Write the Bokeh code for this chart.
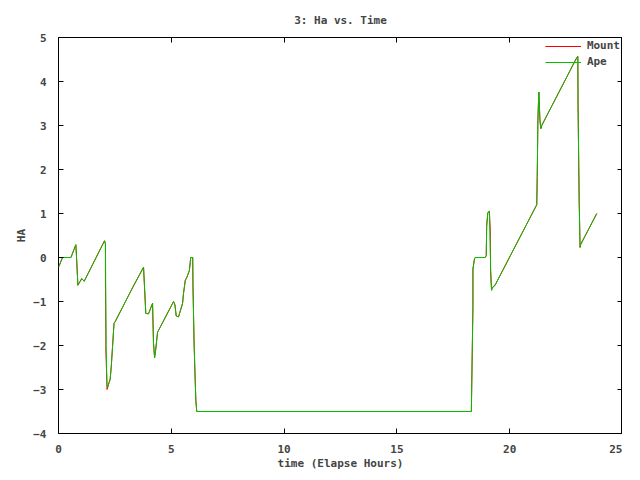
from bokeh.plotting import figure
from bokeh.models import LinearAxis, FixedTicker, Range1d, Legend, LegendItem, Spacer
from bokeh.layouts import row, column
from bokeh.embed import file_html
from bokeh.resources import INLINE

# Ape series (time in elapsed hours, HA)
ape_t = [0.00, 0.18, 0.55, 0.77, 0.80, 0.86, 1.03, 1.14, 2.04, 2.08, 2.11, 2.15, 2.18,
         2.24, 2.29, 2.34, 2.42, 2.46, 2.52, 3.30, 3.77, 3.87, 3.99, 4.17, 4.21, 4.26,
         4.31, 4.39, 5.10, 5.16, 5.22, 5.32, 5.50, 5.54, 5.62, 5.69, 5.80, 5.84, 5.86,
         5.95, 5.96, 6.01, 6.06, 6.09, 6.13, 18.30, 18.37, 18.37, 18.44, 18.47, 18.91,
         18.96, 18.98, 19.03, 19.10, 19.12, 19.16, 19.20, 19.24, 19.35, 21.20, 21.22,
         21.25, 21.29, 21.31, 21.34, 21.38, 21.42, 21.54, 22.98, 23.02, 23.03, 23.08,
         23.12, 23.15, 23.86]
ape_ha = [-0.22, 0.00, 0.00, 0.29, 0.00, -0.63, -0.48, -0.54, 0.38, 0.31, -2.00, -2.90, -2.95,
          -2.84, -2.77, -2.47, -1.83, -1.50, -1.45, -0.67, -0.22, -1.27, -1.28, -1.04, -1.94, -2.28,
          -2.09, -1.70, -1.00, -1.08, -1.33, -1.35, -1.04, -0.82, -0.52, -0.45, -0.30, -0.11, 0.00,
          0.00, -0.63, -1.94, -2.81, -3.26, -3.50, -3.50, -1.12, -0.26, -0.03, 0.00, 0.00,
          0.04, 0.72, 1.02, 1.05, 0.60, -0.30, -0.75, -0.67, -0.63, 1.20, 1.84,
          3.12, 3.76, 3.53, 3.12, 2.93, 3.00, 3.12, 4.55, 4.57, 3.45, 1.28,
          0.23, 0.30, 1.00]

# Mount series (mostly coincides with Ape)
mount_t = [0.00, 0.18, 0.55, 0.77, 0.80, 0.86, 1.03, 1.14, 2.04, 2.08, 2.08, 2.10, 2.10,
           2.13, 2.15, 2.18, 2.24, 2.29, 2.34, 2.42, 2.46, 2.52, 3.30, 3.77, 3.87, 3.99,
           4.17, 4.21, 4.26, 4.31, 4.39, 5.10, 5.16, 5.22, 5.32, 5.50, 5.54, 5.62, 5.69,
           5.80, 5.84, 5.86, 5.95, 5.96, 6.01, 6.06, 6.09, 6.13, 18.30, 18.37, 18.37,
           18.44, 18.47, 18.91, 18.96, 18.98, 19.03, 19.10, 19.14, 19.15, 19.19, 19.22,
           19.35, 21.20, 21.22, 21.25, 21.29, 21.31, 21.34, 21.38, 21.42, 21.54, 22.98,
           23.02, 23.03, 23.08, 23.12, 23.15, 23.86]
mount_ha = [-0.22, 0.00, 0.00, 0.29, 0.00, -0.63, -0.48, -0.54, 0.38, 0.31, -0.45, -1.75, -2.10,
            -2.60, -3.00, -2.95, -2.84, -2.77, -2.47, -1.83, -1.50, -1.45, -0.67, -0.22, -1.27, -1.28,
            -1.04, -1.94, -2.28, -2.09, -1.70, -1.00, -1.08, -1.33, -1.35, -1.04, -0.82, -0.52, -0.45,
            -0.30, -0.11, 0.00, 0.00, -0.63, -1.94, -2.81, -3.26, -3.50, -3.50, -1.12, -0.26,
            -0.03, 0.00, 0.00, 0.04, 0.72, 1.02, 1.05, 0.60, -0.30, -0.72, -0.70,
            -0.63, 1.20, 1.84, 3.12, 3.76, 3.53, 3.12, 2.93, 3.00, 3.12, 4.55,
            4.57, 3.45, 1.28, 0.23, 0.30, 1.00]

x_ticks = [0, 5, 10, 15, 20, 25]
y_ticks = [-4, -3, -2, -1, 0, 1, 2, 3, 4, 5]

FONT = "DejaVu Sans Mono"

p = figure(frame_width=564, frame_height=396, output_backend="svg", toolbar_location=None,
           x_range=Range1d(0, 25), y_range=Range1d(-4, 5),
           min_border_left=0, min_border_right=0, min_border_top=0, min_border_bottom=0,
           title="3: Ha vs. Time")
p.title.align = "center"
p.title.text_font = FONT
p.title.text_font_size = "11px"
p.title.text_font_style = "bold"
p.title.standoff = 21

p.grid.visible = False
p.outline_line_color = "black"
p.outline_line_width = 1
p.background_fill_color = "white"
p.border_fill_color = "white"

r_mount = p.line(mount_t, mount_ha, line_color="#ff0000", line_width=1)
r_ape = p.line(ape_t, ape_ha, line_color="#00c000", line_width=1)

for ax, ticks in ((p.xaxis[0], x_ticks), (p.yaxis[0], y_ticks)):
    ax.ticker = FixedTicker(ticks=ticks)
    ax.major_tick_in = 5
    ax.major_tick_out = 0
    ax.minor_tick_line_color = None
    ax.axis_line_color = None
    ax.major_label_text_font = FONT
    ax.major_label_text_font_size = "11px"
    ax.major_label_text_font_style = "bold"
    ax.axis_label_text_font = FONT
    ax.axis_label_text_font_size = "11px"
    ax.axis_label_text_font_style = "bold"

p.xaxis[0].axis_label = "time (Elapse Hours)"
p.xaxis[0].major_label_standoff = 11
p.xaxis[0].axis_label_standoff = 1
p.yaxis[0].axis_label = "HA"
p.yaxis[0].major_label_standoff = 12
p.yaxis[0].axis_label_standoff = 2

# mirror ticks on top and right (no labels)
top = LinearAxis(ticker=FixedTicker(ticks=x_ticks), major_tick_in=5, major_tick_out=0,
                 minor_tick_line_color=None, axis_line_color=None,
                 major_label_overrides={t: "" for t in x_ticks}, major_label_standoff=0)
right = LinearAxis(ticker=FixedTicker(ticks=y_ticks), major_tick_in=5, major_tick_out=0,
                   minor_tick_line_color=None, axis_line_color=None,
                   major_label_overrides={t: "" for t in y_ticks}, major_label_standoff=0)
p.add_layout(top, "above")
p.add_layout(right, "right")

legend = Legend(items=[LegendItem(label="Mount", renderers=[r_mount]),
                       LegendItem(label="Ape", renderers=[r_ape])],
                location="top_right", border_line_color=None, background_fill_alpha=0,
                label_text_font=FONT, label_text_font_size="11px", label_text_font_style="bold",
                glyph_width=36, glyph_height=10, spacing=3, padding=4, margin=2,
                label_height=10, label_standoff=6)
p.add_layout(legend)

layout = column(Spacer(width=10, height=1), row(Spacer(width=12, height=10), p))

open("out.html", "w").write(file_html(layout, INLINE))
